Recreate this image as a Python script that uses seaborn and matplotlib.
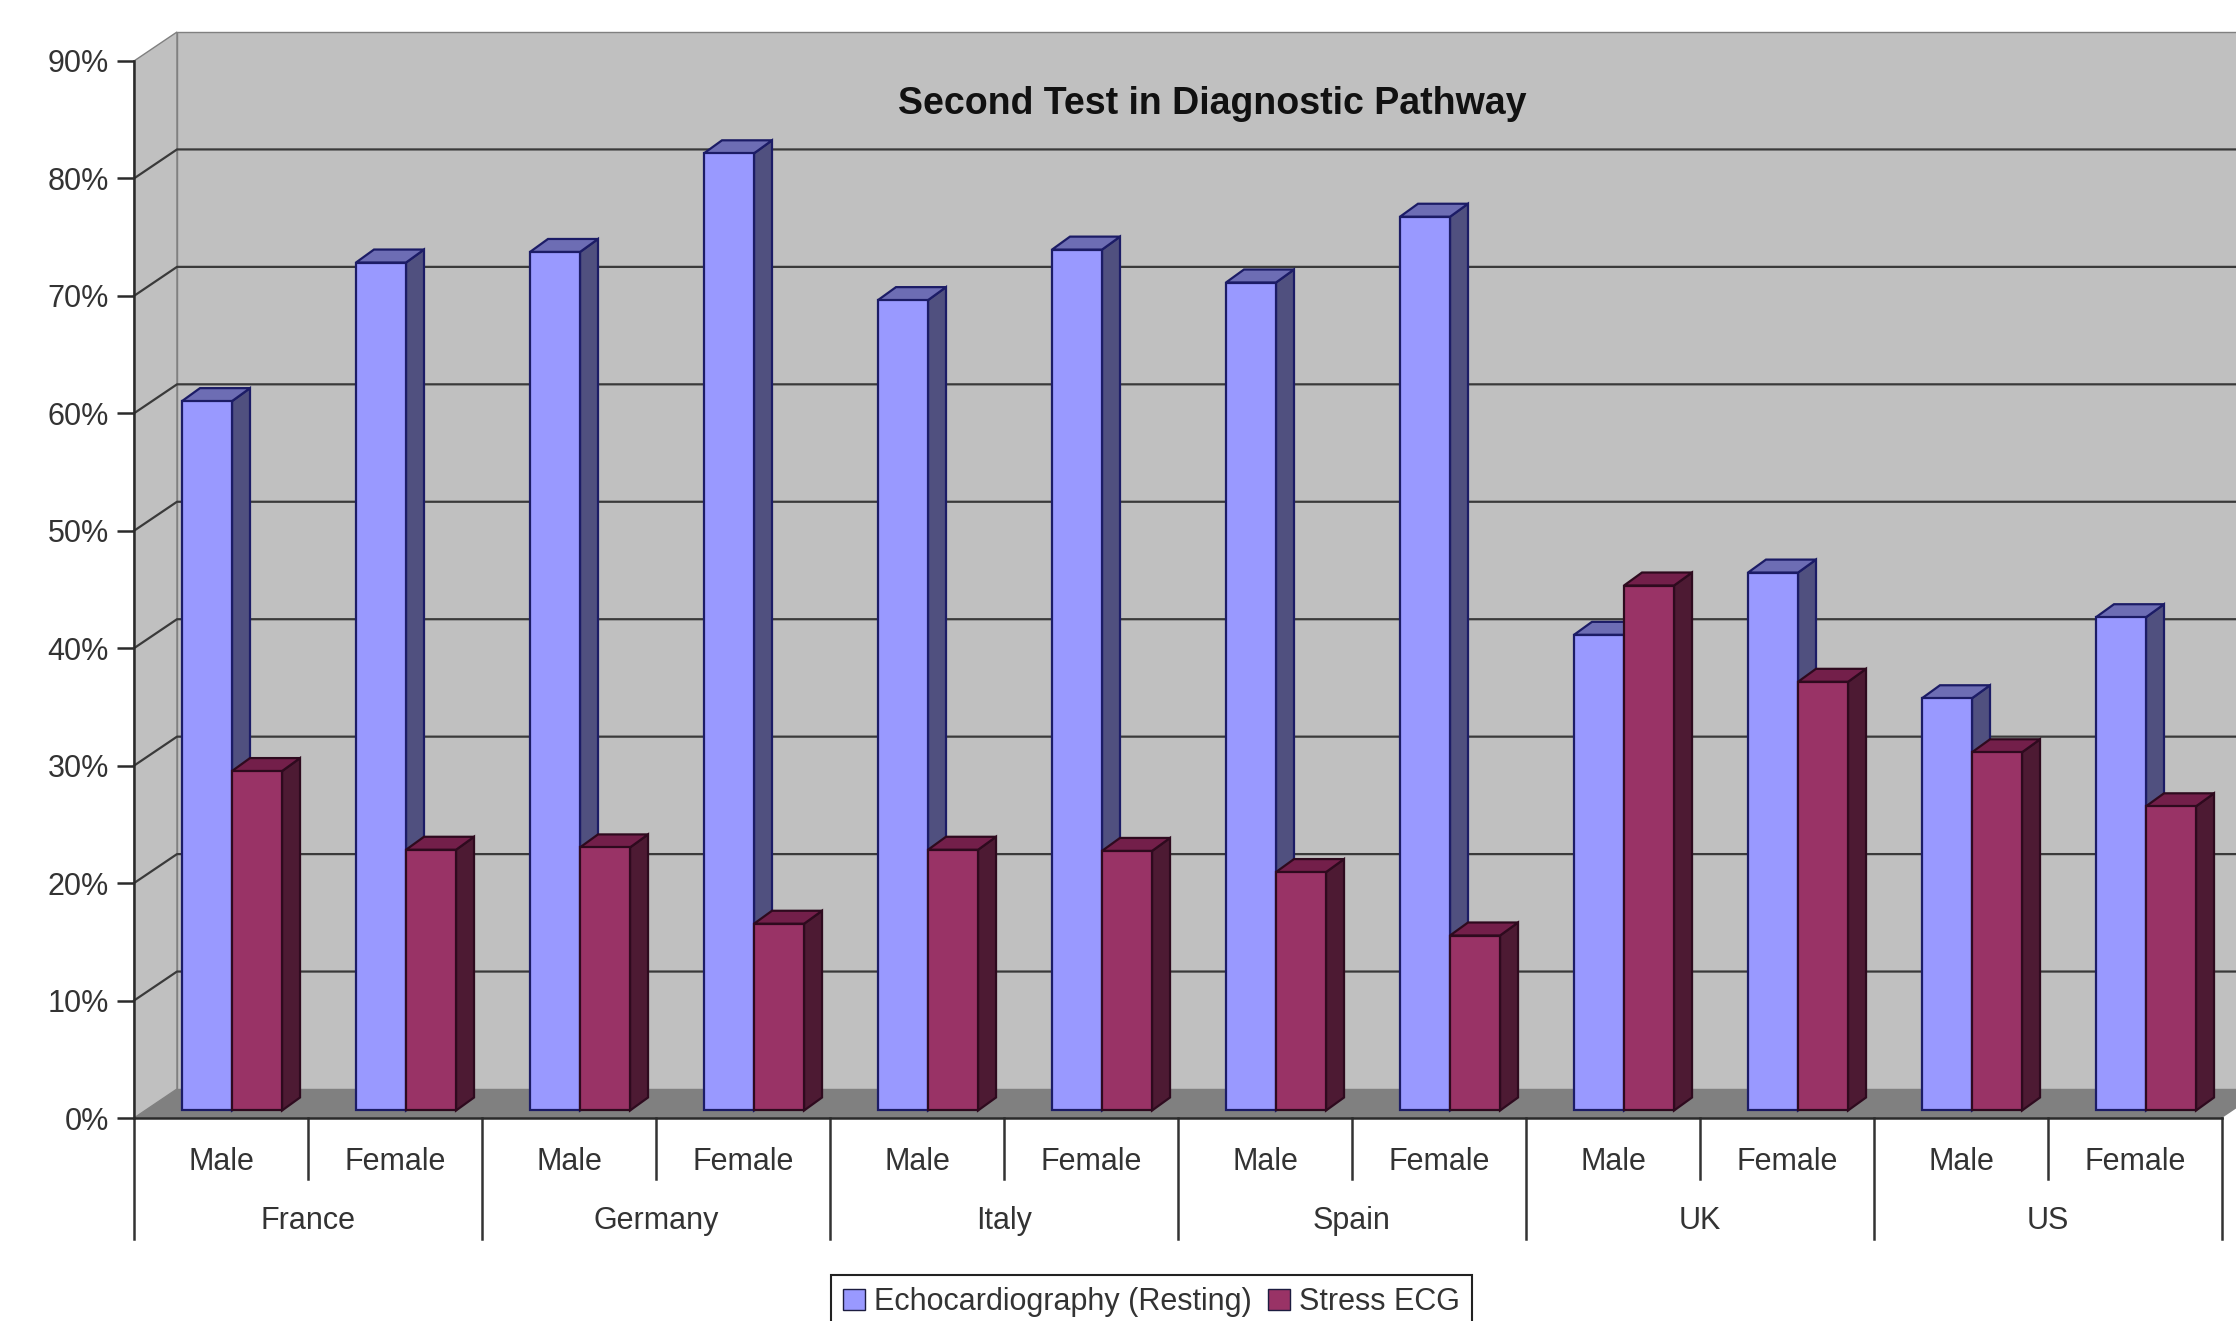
import matplotlib
matplotlib.use("Agg")
import matplotlib.pyplot as plt
from matplotlib.patches import Polygon
import pandas as pd
import seaborn as sns

countries = ["France", "Germany", "Italy", "Spain", "UK", "US"]
sexes = ["Male", "Female"]
echo_values = [60.4, 72.2, 73.1, 81.5, 69.0, 73.3, 70.5, 76.1, 40.5, 45.8, 35.1, 42.0]
stress_values = [28.9, 22.2, 22.4, 15.9, 22.2, 22.1, 20.3, 14.9, 44.7, 36.5, 30.5, 25.9]
y_ticks = [0, 10, 20, 30, 40, 50, 60, 70, 80, 90]
series_names = ["Echocardiography (Resting)", "Stress ECG"]

# 3D look, in data units (one category = 174 px, 10% = 117.4 px)
wall_dx, wall_dy = 43 / 174, 29 / 11.74
bar_dx, bar_dy = 18 / 174, 13 / 11.74
shift_dx, shift_dy = 11 / 174, 7.5 / 11.74

front = ["#9999FF", "#993366"]
side = ["#50507F", "#4D1A33"]
top = ["#6D6DB4", "#731F4A"]
edge = ["#1C1C66", "#2E0A1E"]
wall_color = "#C0C0C0"
floor_color = "#808080"
text_color = "#333333"

plt.rcParams["font.family"] = ["Liberation Sans", "DejaVu Sans"]

labels = [c + " " + s for c in countries for s in sexes]
df = pd.DataFrame({
    "label": labels * 2,
    "test": [series_names[0]] * 12 + [series_names[1]] * 12,
    "value": echo_values + stress_values,
})

fig = plt.figure(figsize=(22.36, 13.21), dpi=100)
ax = fig.add_axes([134 / 2236, 1 - 1118 / 1321, (2222 - 134) / 2236, (1118 - 61) / 1321])

sns.barplot(data=df, x="label", y="value", hue="test", palette=front, width=0.575, gap=0,
            saturation=1, ax=ax)
ax.set_xlim(-0.5, 11.5)
ax.set_ylim(0, 90)
ax.patch.set_visible(False)

xl, xr = ax.get_xlim()
yt = y_ticks[-1]

# Walls and floor
ax.add_patch(Polygon([(xl, 0), (xl, yt), (xl + wall_dx, yt + wall_dy), (xl + wall_dx, wall_dy)],
                     fc=wall_color, ec="#808080", lw=1, clip_on=False, zorder=0))
ax.add_patch(Polygon([(xl + wall_dx, wall_dy), (xl + wall_dx, yt + wall_dy), (xr + wall_dx, yt + wall_dy), (xr + wall_dx, wall_dy)],
                     fc=wall_color, ec="#808080", lw=1, clip_on=False, zorder=0))
ax.add_patch(Polygon([(xl, 0), (xl + wall_dx, wall_dy), (xr + wall_dx, wall_dy), (xr, 0)],
                     fc=floor_color, ec="none", clip_on=False, zorder=1))

# Gridlines on both walls
for t in y_ticks[1:-1]:
    ax.plot([xl, xl + wall_dx, xr + wall_dx], [t, t + wall_dy, t + wall_dy], color="#3A3A3A", lw=1.6,
            clip_on=False, zorder=2)

# Bars: front comes from seaborn, side and top are added on it
for j, cont in enumerate(ax.containers):
    for bar in cont:
        x0 = bar.get_x() + shift_dx
        y0 = bar.get_y() + shift_dy
        x1 = x0 + bar.get_width()
        y1 = y0 + bar.get_height()
        bar.set_xy((x0, y0))
        bar.set_edgecolor(edge[j])
        bar.set_linewidth(1.6)
        bar.set_zorder(3.2 + j)
        bar.set_clip_on(False)
        ax.add_patch(Polygon([(x1, y0), (x1 + bar_dx, y0 + bar_dy), (x1 + bar_dx, y1 + bar_dy), (x1, y1)],
                             fc=side[j], ec=edge[j], lw=1.6, clip_on=False, zorder=3 + j))
        ax.add_patch(Polygon([(x0, y1), (x0 + bar_dx, y1 + bar_dy), (x1 + bar_dx, y1 + bar_dy), (x1, y1)],
                             fc=top[j], ec=edge[j], lw=1.6, clip_on=False, zorder=3.1 + j))

# Axes
sns.despine(ax=ax)
for s in ["left", "bottom"]:
    ax.spines[s].set_linewidth(1.8)
    ax.spines[s].set_color("#2A2A2A")
    ax.spines[s].set_zorder(6)
ax.set_xlabel("")
ax.set_ylabel("")
ax.set_yticks(y_ticks)
ax.set_yticklabels([str(t) + "%" for t in y_ticks], fontsize=22, color=text_color)
ax.tick_params(axis="y", length=12, width=1.8, color="#2A2A2A", pad=6)
ax.set_xticks(range(12))
ax.set_xticklabels(sexes * 6, fontsize=22, color=text_color)
ax.tick_params(axis="x", length=0, pad=21)

# Two level category axis
trans = ax.get_xaxis_transform()
axis_h = 1118 - 61
for i in range(13):
    low = -121 / axis_h if i % 2 == 0 else -61 / axis_h
    ax.plot([xl + i, xl + i], [0, low], transform=trans, color="#333333", lw=1.8, clip_on=False, zorder=6)
for i, c in enumerate(countries):
    ax.text(xl + 2 * i + 1, -103 / axis_h, c, transform=trans, ha="center", va="center", fontsize=22,
            color=text_color)

fig.text(1212 / 2236, 1 - 104 / 1321, "Second Test in Diagnostic Pathway", ha="center", va="center",
         fontsize=27, fontweight="bold", color="#111111")

sns.move_legend(ax, "upper left", bbox_to_anchor=(831 / 2236, 1 - 1275 / 1321),
                bbox_transform=fig.transFigure, ncol=2, title=None, frameon=True, fancybox=False,
                framealpha=1, edgecolor="#222222", fontsize=22, handlelength=0.7, handleheight=0.7,
                handletextpad=0.3, columnspacing=0.55, borderpad=0.4, borderaxespad=0,
                labelcolor=text_color)
for h in ax.get_legend().get_patches():
    h.set_edgecolor("#1C1C40")
ax.get_legend().get_frame().set_linewidth(1.5)

fig.savefig("out.png", dpi=100)
